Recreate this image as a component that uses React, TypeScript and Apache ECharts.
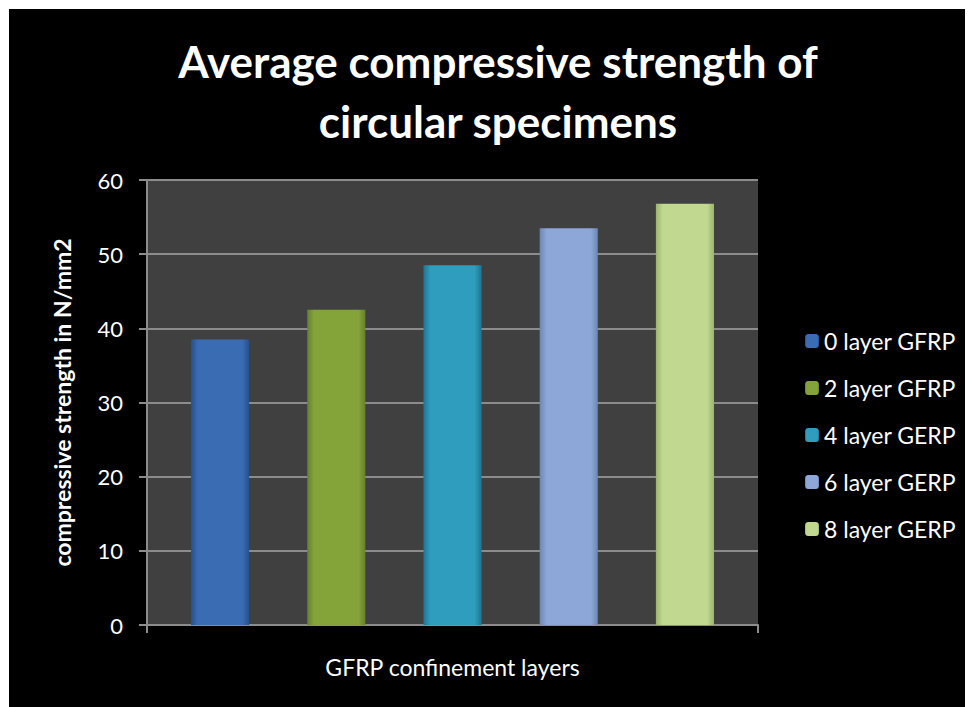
import React, { useEffect, useRef } from "react";
import * as echarts from "echarts";

const seriesNames = ["0 layer GFRP", "2 layer GFRP", "4 layer GERP", "6 layer GERP", "8 layer GERP"];
const seriesValues = [38.5, 42.5, 48.5, 53.5, 56.8];
const baseColors = ["#3A6CB4", "#84A43A", "#2F9DBE", "#8DA7D8", "#C0D890"];
const edgeColors = ["#27508C", "#65822A", "#1E7592", "#6C86B6", "#9CB56E"];
const categories = [""];
const yTicks = { min: 0, max: 60, interval: 10 };

const FONT = "Lato, 'Open Sans', sans-serif";

export default function App() {
  const ref = useRef<HTMLDivElement>(null);
  useEffect(() => {
    if (!ref.current) return;
    const chart = echarts.init(ref.current, null, { renderer: "svg" });
    const series = seriesNames.map((name, i) => ({
      name,
      type: "bar",
      data: [seriesValues[i]],
      barGap: "100%",
      barCategoryGap: "14.4%",
      itemStyle: {
        color: new echarts.graphic.LinearGradient(0, 0, 1, 0, [
          { offset: 0, color: edgeColors[i] },
          { offset: 0.12, color: baseColors[i] },
          { offset: 0.88, color: baseColors[i] },
          { offset: 1, color: edgeColors[i] },
        ]),
      },
    }));
    chart.setOption({
      animation: false,
      backgroundColor: "#000000",
      title: {
        text: "Average compressive strength of\ncircular specimens",
        left: 484,
        top: 17,
        textAlign: "center",
        textStyle: {
          color: "#ffffff",
          fontFamily: FONT,
          fontWeight: "bold",
          fontSize: 44,
          lineHeight: 60,
        },
      },
      legend: {
        orient: "vertical",
        left: 791,
        top: 315,
        itemWidth: 14,
        itemHeight: 14,
        itemGap: 23,
        textStyle: { color: "#ffffff", fontFamily: FONT, fontSize: 23, lineHeight: 24 },
        data: seriesNames,
      },
      grid: { left: 138, right: 215, top: 171, bottom: 82, backgroundColor: "#404040", show: true, borderWidth: 0 },
      xAxis: {
        type: "category",
        data: categories,
        name: "GFRP confinement layers",
        nameLocation: "middle",
        nameGap: 30,
        nameTextStyle: { color: "#ffffff", fontFamily: FONT, fontSize: 23 },
        axisLine: { lineStyle: { color: "#8c8c8c", width: 2 } },
        axisTick: { show: true, length: 8, lineStyle: { color: "#8c8c8c", width: 2 } },
        axisLabel: { show: false },
      },
      yAxis: {
        type: "value",
        min: yTicks.min,
        max: yTicks.max,
        interval: yTicks.interval,
        name: "compressive strength in N/mm2",
        nameLocation: "middle",
        nameRotate: 90,
        nameGap: 74,
        nameTextStyle: { color: "#ffffff", fontFamily: FONT, fontSize: 23, fontWeight: "bold" },
        axisLine: { show: true, lineStyle: { color: "#8c8c8c", width: 2 } },
        axisTick: { show: true, length: 8, lineStyle: { color: "#8c8c8c", width: 2 } },
        axisLabel: { color: "#ffffff", fontFamily: FONT, fontSize: 22, margin: 24 },
        splitLine: { lineStyle: { color: "#8c8c8c", width: 2 } },
      },
      series,
    });
    return () => chart.dispose();
  }, []);
  return (
    <div
      ref={ref}
      style={{ width: 964, height: 698, marginLeft: 1, marginTop: 1 }}
    />
  );
}
